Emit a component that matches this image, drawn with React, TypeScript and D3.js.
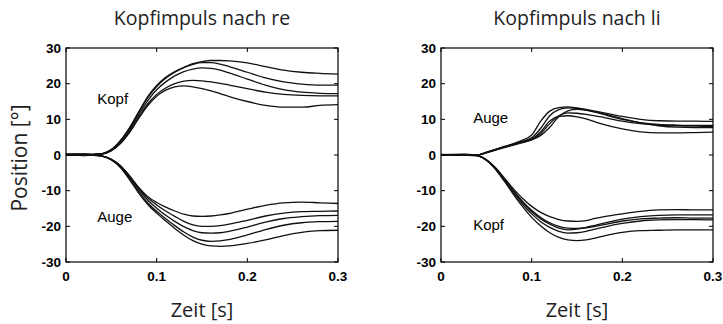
import React, { useEffect, useRef } from 'react';
import * as d3 from 'd3';

// time samples (s)
const times = [0, 0.01, 0.02, 0.03, 0.04, 0.05, 0.06, 0.07, 0.08, 0.09, 0.1, 0.11, 0.12, 0.13, 0.14, 0.15, 0.16, 0.17, 0.18, 0.2, 0.22, 0.24, 0.26, 0.28, 0.3];

// Kopfimpuls nach re
const leftKopf = [
    [0.2, 0.1, 0.3, 0.1, 0.4, 1.5, 4, 7.6, 12, 16.3, 19.5, 21.8, 23.4, 24.6, 25.6, 26.2, 26.5, 26.5, 26.4, 25.8, 24.8, 23.8, 23.2, 22.9, 22.7],
    [0.1, 0.3, 0.1, 0.2, 0.4, 1.5, 4, 7.5, 11.8, 16, 19.2, 21.5, 23.2, 24.5, 25.4, 25.9, 25.9, 25.5, 24.8, 23.2, 21.6, 20.5, 19.9, 19.6, 19.6],
    [0.3, 0.2, 0.2, 0.1, 0.3, 1.3, 3.6, 7, 11.2, 15.2, 18.3, 20.5, 22.2, 23.4, 24.1, 24.4, 24.3, 23.8, 23, 21.3, 19.6, 18.3, 17.6, 17.3, 17.2],
    [0.2, 0.2, 0.1, 0.2, 0.3, 1.2, 3.3, 6.5, 10.5, 14.3, 17, 18.8, 20, 20.7, 20.9, 20.8, 20.5, 20.1, 19.6, 18.6, 17.6, 17, 16.7, 16.6, 16.6],
    [0.1, 0.2, 0.3, 0.2, 0.3, 1.2, 3.2, 6.3, 10.2, 13.8, 16.5, 18.2, 19.1, 19.4, 19.1, 18.6, 18, 17.2, 16.4, 15, 13.9, 13.4, 13.4, 13.9, 14.1],
];
const leftAuge = [
    [0, -0.1, 0.1, 0, -0.3, -1.2, -3, -5.8, -9, -11.6, -13.3, -14.6, -15.7, -16.6, -17.1, -17.2, -17.1, -16.8, -16.4, -15.2, -14.1, -13.4, -13.2, -13.4, -13.6],
    [-0.1, 0, -0.2, 0.1, -0.3, -1.2, -3, -5.9, -9.2, -12, -14, -15.7, -17.2, -18.6, -19.6, -20, -20, -19.8, -19.4, -18.3, -17.1, -16.3, -15.9, -15.8, -15.7],
    [0.1, -0.1, 0, -0.1, -0.3, -1.3, -3.2, -6.2, -9.6, -12.6, -14.9, -16.9, -18.6, -20.1, -21.2, -21.8, -21.9, -21.8, -21.4, -20.2, -18.8, -17.8, -17.3, -17, -16.9],
    [0, 0.1, -0.1, 0, -0.3, -1.3, -3.3, -6.5, -10.2, -13.4, -15.8, -17.9, -19.8, -21.6, -23, -23.9, -24.2, -24.1, -23.7, -22.4, -20.9, -19.7, -19, -18.7, -18.6],
    [-0.1, 0, 0.1, -0.1, -0.3, -1.4, -3.5, -6.9, -10.6, -13.8, -16.3, -18.5, -20.6, -22.5, -24, -25, -25.5, -25.6, -25.5, -24.8, -23.8, -22.6, -21.7, -21.2, -21.1],
];

// Kopfimpuls nach li
const rightAuge = [
    [0.1, 0, 0.2, 0.1, 0, 0.8, 1.6, 2.4, 3.2, 4.2, 5.6, 9.5, 12.3, 13.3, 13.5, 13.2, 12.8, 12.3, 11.8, 10.8, 10, 9.6, 9.5, 9.5, 9.4],
    [0, 0.1, 0.1, 0.2, 0, 0.7, 1.5, 2.3, 3.1, 3.9, 4.8, 7.5, 11, 12.7, 13.2, 13.1, 12.6, 12, 11.3, 10, 9.1, 8.6, 8.4, 8.3, 8.3],
    [0.1, 0.2, 0, 0.1, 0, 0.7, 1.4, 2.2, 2.9, 3.6, 4.3, 6, 8.8, 11, 11.8, 11.7, 11.4, 11, 10.5, 9.5, 8.8, 8.4, 8.2, 8.1, 8],
    [0.2, 0.1, 0.1, 0, 0, 0.6, 1.4, 2.1, 2.8, 3.5, 4.2, 5.5, 7.8, 10.8, 12.4, 12.8, 12.6, 12.1, 11.5, 10.2, 9, 8.2, 7.8, 7.7, 7.7],
    [0, 0.1, 0.2, 0.1, 0, 0.7, 1.5, 2.3, 3, 3.7, 4.4, 6.5, 9.5, 10.8, 11, 10.7, 10.1, 9.3, 8.5, 7.3, 6.5, 6.2, 6.2, 6.3, 6.4],
];
const rightKopf = [
    [0, -0.1, 0.1, 0, -0.2, -1.3, -3.5, -6.5, -9.5, -12.2, -14.4, -16.1, -17.3, -18.1, -18.5, -18.6, -18.4, -17.8, -17.3, -16.5, -15.8, -15.4, -15.3, -15.4, -15.4],
    [0.1, 0, -0.1, 0.1, -0.2, -1.4, -3.7, -6.9, -10.2, -13.3, -15.9, -17.9, -19.4, -20.5, -21, -20.8, -20.3, -19.7, -19.1, -18, -17.3, -16.9, -16.8, -16.8, -16.8],
    [-0.1, 0.1, 0, -0.1, -0.2, -1.4, -3.8, -7.1, -10.6, -13.8, -16.5, -18.7, -20.3, -21.4, -21.9, -21.8, -21.4, -20.8, -20.2, -19.2, -18.5, -18.2, -18.1, -18.1, -18.2],
    [0, 0, 0.1, -0.1, -0.2, -1.5, -4, -7.4, -11.1, -14.5, -17.5, -19.9, -21.8, -23.1, -23.8, -24, -23.8, -23.3, -22.7, -21.7, -21.2, -21.1, -21, -21, -21],
    [0.1, -0.1, 0, 0.1, -0.2, -1.4, -3.7, -6.8, -10, -13, -15.5, -17.5, -19, -20, -20.5, -20.6, -20.4, -20, -19.5, -18.5, -17.9, -17.7, -17.6, -17.7, -17.7],
];

const xTicks = [0, 0.1, 0.2, 0.3];
const yTicks = [-30, -20, -10, 0, 10, 20, 30];

const panels = [
    { title: 'Kopfimpuls nach re', left: 66, series: [...leftKopf, ...leftAuge],
      notes: [{ text: 'Kopf', t: 0.0345, v: 14.4 }, { text: 'Auge', t: 0.0345, v: -18.8 }] },
    { title: 'Kopfimpuls nach li', left: 441, series: [...rightAuge, ...rightKopf],
      notes: [{ text: 'Auge', t: 0.0355, v: 8.9 }, { text: 'Kopf', t: 0.0355, v: -20.9 }] },
];

const App = () => {
    const svgRef = useRef(null);

    useEffect(() => {
        const svg = d3.select(svgRef.current);
        svg.selectAll('*').remove();

        const plotW = 272;
        const top = 48, bottom = 262;
        const tickFont = '"Liberation Sans", Arial, sans-serif';
        const labelFont = '"Open Sans", sans-serif';

        panels.forEach(p => {
            const x = d3.scaleLinear().domain([0, 0.3]).range([p.left, p.left + plotW]);
            const y = d3.scaleLinear().domain([-30, 30]).range([bottom, top]);
            const g = svg.append('g');

            // Kurven
            const line = d3.line()
                .x((d, i) => x(times[i]))
                .y(d => y(d))
                .curve(d3.curveMonotoneX);
            g.selectAll('path.curve')
                .data(p.series)
                .join('path')
                .attr('class', 'curve')
                .attr('d', line)
                .attr('fill', 'none')
                .attr('stroke', '#111')
                .attr('stroke-width', 1.3);

            // Rahmen
            g.append('rect')
                .attr('x', x(0)).attr('y', y(30))
                .attr('width', x(0.3) - x(0)).attr('height', y(-30) - y(30))
                .attr('fill', 'none').attr('stroke', '#000').attr('stroke-width', 1.2);

            // Ticks nach innen, alle Seiten
            const tl = 4;
            xTicks.forEach(t => {
                g.append('line').attr('x1', x(t)).attr('x2', x(t)).attr('y1', bottom).attr('y2', bottom - tl).attr('stroke', '#000');
                g.append('line').attr('x1', x(t)).attr('x2', x(t)).attr('y1', top).attr('y2', top + tl).attr('stroke', '#000');
                g.append('text')
                    .attr('x', x(t)).attr('y', 281)
                    .attr('text-anchor', 'middle')
                    .attr('font-family', tickFont).attr('font-weight', 'bold').attr('font-size', 13.5)
                    .text(t === 0 ? '0' : String(t));
            });
            yTicks.forEach(v => {
                g.append('line').attr('x1', x(0)).attr('x2', x(0) + tl).attr('y1', y(v)).attr('y2', y(v)).attr('stroke', '#000');
                g.append('line').attr('x1', x(0.3)).attr('x2', x(0.3) - tl).attr('y1', y(v)).attr('y2', y(v)).attr('stroke', '#000');
                g.append('text')
                    .attr('x', x(0) - 5).attr('y', y(v) + 4.8)
                    .attr('text-anchor', 'end')
                    .attr('font-family', tickFont).attr('font-weight', 'bold').attr('font-size', 13.5)
                    .text(String(v));
            });

            // Beschriftungen
            p.notes.forEach(n => {
                g.append('text')
                    .attr('x', x(n.t)).attr('y', y(n.v))
                    .attr('font-family', tickFont).attr('font-size', 15)
                    .text(n.text);
            });

            g.append('text')
                .attr('x', x(0.15)).attr('y', 25)
                .attr('text-anchor', 'middle')
                .attr('font-family', labelFont).attr('font-size', 19.5).attr('fill', '#222')
                .text(p.title);

            g.append('text')
                .attr('x', x(0.15)).attr('y', 317)
                .attr('text-anchor', 'middle')
                .attr('font-family', labelFont).attr('font-size', 20).attr('fill', '#222')
                .text('Zeit [s]');
        });

        svg.append('text')
            .attr('transform', 'translate(27,158) rotate(-90)')
            .attr('text-anchor', 'middle')
            .attr('font-family', labelFont).attr('font-size', 21).attr('fill', '#222')
            .text('Position [°]');
    }, []);

    return (
        <div style={{ position: 'absolute', left: 0, top: 0 }}>
            <svg ref={svgRef} width={723} height={324} style={{ display: 'block', background: '#fff' }} />
        </div>
    );
};

export default App;
